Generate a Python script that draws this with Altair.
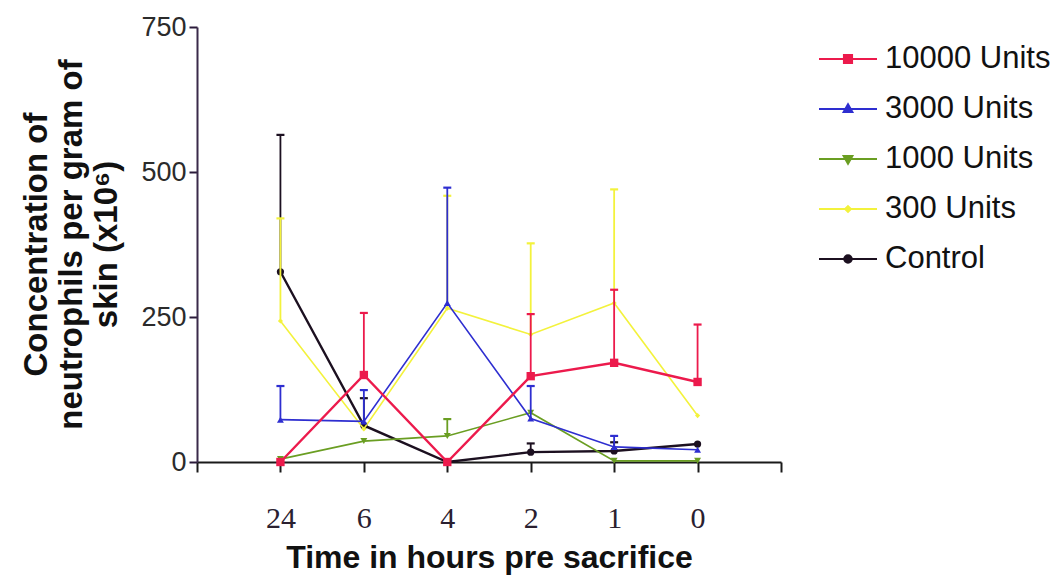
import altair as alt
import pandas as pd

# Time points (hours before sacrifice), placed at equally spaced slots 1..6
hour_labels = ["24", "6", "4", "2", "1", "0"]
slots = [1, 2, 3, 4, 5, 6]

series_names = ["10000 Units", "3000 Units", "1000 Units", "300 Units", "Control"]

# Mean neutrophil concentration (x10^6 per gram of skin)
mean_10000 = [0, 150, 0, 148, 171, 138]
mean_3000 = [73, 70, 274, 75, 26, 21]
mean_1000 = [5, 36, 45, 85, 2, 2]
mean_300 = [243, 57, 265, 220, 274, 80]
mean_control = [328, 63, 0, 17, 19, 31]

# Top of the upper error bar (mean + SEM); None where no bar is drawn
upper_10000 = [None, 257, None, 255, 297, 237]
upper_3000 = [131, 124, 473, 131, 45, None]
upper_1000 = [None, None, 74, None, None, None]
upper_300 = [420, None, 459, 377, 470, None]
upper_control = [564, 110, None, 32, 34, None]

colors = ["#EC1A4C", "#2E2ED0", "#6A9E22", "#F3F23C", "#1C1020"]
marker_shapes = ["square", "triangle-up", "triangle-down", "diamond", "circle"]
marker_sizes = [70, 48, 48, 26, 52]
line_widths = [2.4, 1.6, 1.6, 1.6, 2.4]

# Legend glyphs: a short line with the series marker in the middle
legend_paths = [
    "M-1,0H1M-0.14,-0.14H0.14V0.14H-0.14Z",
    "M-1,0H1M0,-0.16L0.15,0.1H-0.15Z",
    "M-1,0H1M0,0.16L0.15,-0.1H-0.15Z",
    "M-1,0H1M0,-0.1L0.1,0L0,0.1L-0.1,0Z",
    "M-1,0H1M-0.13,0A0.13,0.13,0,1,0,0.13,0A0.13,0.13,0,1,0,-0.13,0Z",
]

means = [mean_10000, mean_3000, mean_1000, mean_300, mean_control]
uppers = [upper_10000, upper_3000, upper_1000, upper_300, upper_control]

rows = []
for name, m, u in zip(series_names, means, uppers):
    for s, h, v, up in zip(slots, hour_labels, m, u):
        rows.append({"series": name, "slot": s, "hour": h, "value": v, "upper": up})
df = pd.DataFrame(rows)

label_list = "[" + ",".join("'" + h + "'" for h in hour_labels) + "]"
x_label_expr = "datum.value >= 1 && datum.value <= 6 ? " + label_list + "[datum.value - 1] : ''"

x_axis = alt.Axis(
    title="Time in hours pre sacrifice",
    values=list(range(0, 8)),
    labelExpr=x_label_expr,
    labelFont="Liberation Serif",
    labelFontSize=30,
    labelColor="#2A2030",
    labelBaseline="alphabetic",
    labelPadding=55,
    titleY=95,
    titleBaseline="middle",
)
y_axis = alt.Axis(
    title=["Concentration of", "neutrophils per gram of", "skin (x10\u2076)"],
    values=[0, 250, 500, 750],
    labelFont="Arial",
    labelFontSize=27,
    labelColor="#2B2B2B",
    labelPadding=3,
    titleX=-144,
    titleY=217,
)

x_scale = alt.Scale(domain=[0, 7], nice=False, zero=False)
y_scale = alt.Scale(domain=[0, 750], nice=False)

x_enc = alt.X("slot:Q", scale=x_scale, axis=x_axis)
y_enc = alt.Y("value:Q", scale=y_scale, axis=y_axis)
y_up = alt.Y("upper:Q", scale=y_scale, axis=y_axis)

base = alt.Chart(df)
layers = []
# draw order: control underneath, 10000 Units on top
for i in reversed(range(len(series_names))):
    name = series_names[i]
    sub = base.transform_filter(alt.datum.series == name)
    col = colors[i]
    err = sub.transform_filter("isValid(datum.upper)")
    layers.append(
        err.mark_rule(color=col, strokeWidth=1.8).encode(x=x_enc, y=y_enc, y2="upper:Q")
    )
    layers.append(
        err.mark_point(shape="stroke", color=col, strokeWidth=2.2, size=64, opacity=1).encode(
            x=x_enc, y=y_up
        )
    )
    layers.append(sub.mark_line(color=col, strokeWidth=line_widths[i]).encode(x=x_enc, y=y_enc))
    layers.append(
        sub.mark_point(
            shape=marker_shapes[i], filled=True, color=col, size=marker_sizes[i], opacity=1
        ).encode(x=x_enc, y=y_enc)
    )

legend_common = dict(
    title=None,
    orient="none",
    legendX=621,
    legendY=2,
    labelFont="Liberation Sans",
    labelFontSize=31,
    labelColor="#111111",
    labelLimit=0,
    symbolSize=3364,
    symbolStrokeWidth=2,
    rowPadding=5,
    labelOffset=7,
)

legend_layer = (
    base.transform_filter("false")
    .mark_point(filled=True, opacity=1)
    .encode(
        x=x_enc,
        y=y_enc,
        fill=alt.Fill(
            "series:N",
            scale=alt.Scale(domain=series_names, range=colors),
            legend=alt.Legend(**legend_common),
        ),
        stroke=alt.Stroke(
            "series:N",
            scale=alt.Scale(domain=series_names, range=colors),
            legend=alt.Legend(**legend_common),
        ),
        shape=alt.Shape(
            "series:N",
            scale=alt.Scale(domain=series_names, range=legend_paths),
            legend=alt.Legend(**legend_common),
        ),
    )
)

chart = (
    alt.layer(*layers, legend_layer)
    .properties(
        width=584,
        height=435,
        autosize=alt.AutoSizeParams(type="none"),
        padding={"left": 197, "top": 27, "right": 277, "bottom": 114},
        background="white",
    )
    .configure_view(stroke=None)
    .configure_axisX(
        tickSize=10,
        tickWidth=2,
        tickColor="#1A1A1A",
        domainColor="#1A1A1A",
        domainWidth=2,
        grid=False,
        titleFont="Liberation Sans",
        titleFontSize=32,
        titleFontWeight="bold",
        titleColor="#111111",
    )
    .configure_axisY(
        tickSize=8,
        tickWidth=2,
        tickColor="#2A1A3A",
        domainColor="#3A2A4A",
        domainWidth=2,
        grid=False,
        titleFont="Liberation Sans",
        titleFontSize=33,
        titleFontWeight="bold",
        titleColor="#111111",
        titleLineHeight=35,
        titleAngle=-90,
        titleBaseline="bottom",
        titleAlign="center",
    )
)

chart.save("out.html", embed_options={"renderer": "svg", "actions": False})
